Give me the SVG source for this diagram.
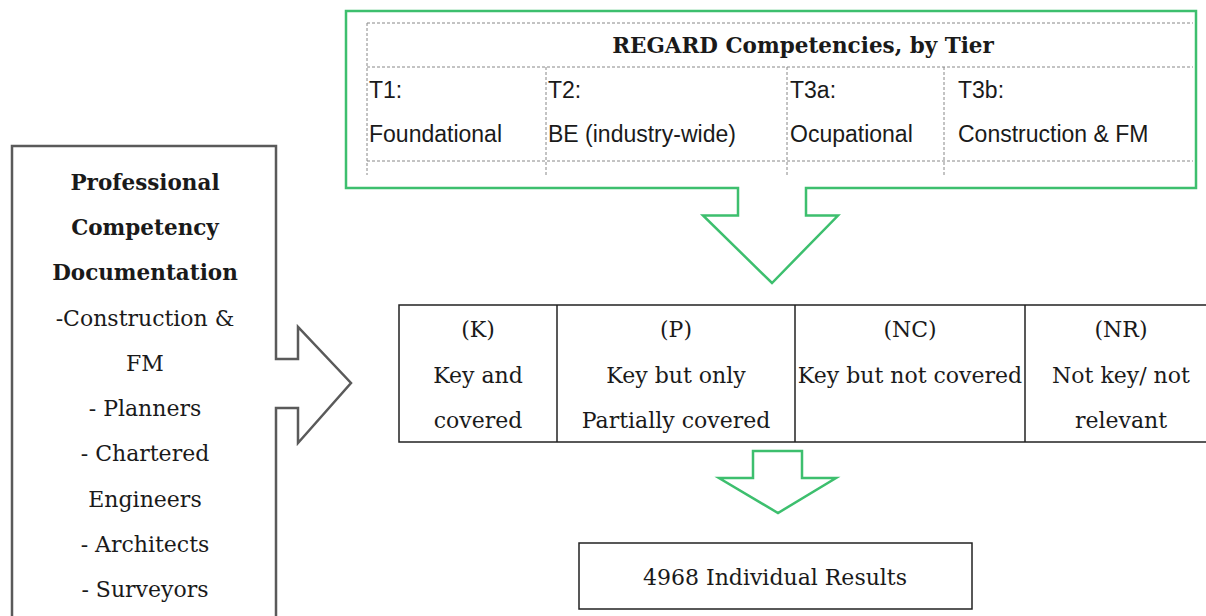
<svg xmlns="http://www.w3.org/2000/svg" width="1206" height="616" viewBox="0 0 1206 616">
<style>
.serif{font-family:"DejaVu Serif","Liberation Serif",serif;font-size:22px;fill:#1a1a1a;text-anchor:middle}
.bold{font-weight:bold;font-size:21.5px}
.sans{font-family:"Liberation Sans",Arial,sans-serif;font-size:23px;fill:#1a1a1a}
.green{fill:#fff;stroke:#3dbf6e;stroke-width:2.5}
.dash{stroke:#888;stroke-width:1;stroke-dasharray:3,2;fill:none}
.cell{stroke:#222;stroke-width:1.5;fill:none}
</style>
<rect width="1206" height="616" fill="#fff"/>
<g id="connectors">
<path class="green" d="M753,451 H802 V478 H836 L778,513 L719,478 H753 Z"/>
</g>
<g id="regard">
<path class="green" d="M346,11 H1196 V188 H806 V215.5 H838 L772,283 L703,215.5 H738 V188 H346 Z"/>
<g class="dash">
<line x1="367" y1="23" x2="1193" y2="23"/>
<line x1="367" y1="67" x2="1193" y2="67"/>
<line x1="367" y1="161" x2="1193" y2="161"/>
<line x1="367" y1="23" x2="367" y2="175"/>
<line x1="546" y1="67" x2="546" y2="175"/>
<line x1="787" y1="67" x2="787" y2="175"/>
<line x1="944" y1="67" x2="944" y2="175"/>
</g>
<text class="serif bold" x="803" y="53">REGARD Competencies, by Tier</text>
<text class="sans" x="369" y="98">T1:</text>
<text class="sans" x="369" y="142">Foundational</text>
<text class="sans" x="548" y="98">T2:</text>
<text class="sans" x="548" y="142">BE (industry-wide)</text>
<text class="sans" x="790" y="98">T3a:</text>
<text class="sans" x="790" y="142">Ocupational</text>
<text class="sans" x="958" y="98">T3b:</text>
<text class="sans" x="958" y="142">Construction &amp; FM</text>
</g>
<g id="documentation">
<path fill="#fff" stroke="#5a5a5a" stroke-width="2.5" d="M12,620 V146 H276 V359 H298 V327 L351,383 L298,443 V408 H276 V620"/>
<text class="serif bold" x="145" y="190">Professional</text>
<text class="serif bold" x="145" y="235">Competency</text>
<text class="serif bold" x="145" y="280">Documentation</text>
<text class="serif" x="145" y="326">-Construction &amp;</text>
<text class="serif" x="145" y="371">FM</text>
<text class="serif" x="145" y="416">- Planners</text>
<text class="serif" x="145" y="461">- Chartered</text>
<text class="serif" x="145" y="507">Engineers</text>
<text class="serif" x="145" y="552">- Architects</text>
<text class="serif" x="145" y="597">- Surveyors</text>
</g>
<g id="categories">
<rect class="cell" x="399" y="305" width="820" height="137"/>
<line class="cell" x1="557" y1="305" x2="557" y2="442"/>
<line class="cell" x1="795" y1="305" x2="795" y2="442"/>
<line class="cell" x1="1025" y1="305" x2="1025" y2="442"/>
<text class="serif" x="478" y="337">(K)</text>
<text class="serif" x="478" y="383">Key and</text>
<text class="serif" x="478" y="428">covered</text>
<text class="serif" x="676" y="337">(P)</text>
<text class="serif" x="676" y="383">Key but only</text>
<text class="serif" x="676" y="428">Partially covered</text>
<text class="serif" x="910" y="337">(NC)</text>
<text class="serif" x="910" y="383">Key but not covered</text>
<text class="serif" x="1121" y="337">(NR)</text>
<text class="serif" x="1121" y="383">Not key/ not</text>
<text class="serif" x="1121" y="428">relevant</text>
</g>
<g id="results">
<rect class="cell" x="579" y="543" width="393" height="66"/>
<text class="serif" x="775" y="585">4968 Individual Results</text>
</g>
</svg>
